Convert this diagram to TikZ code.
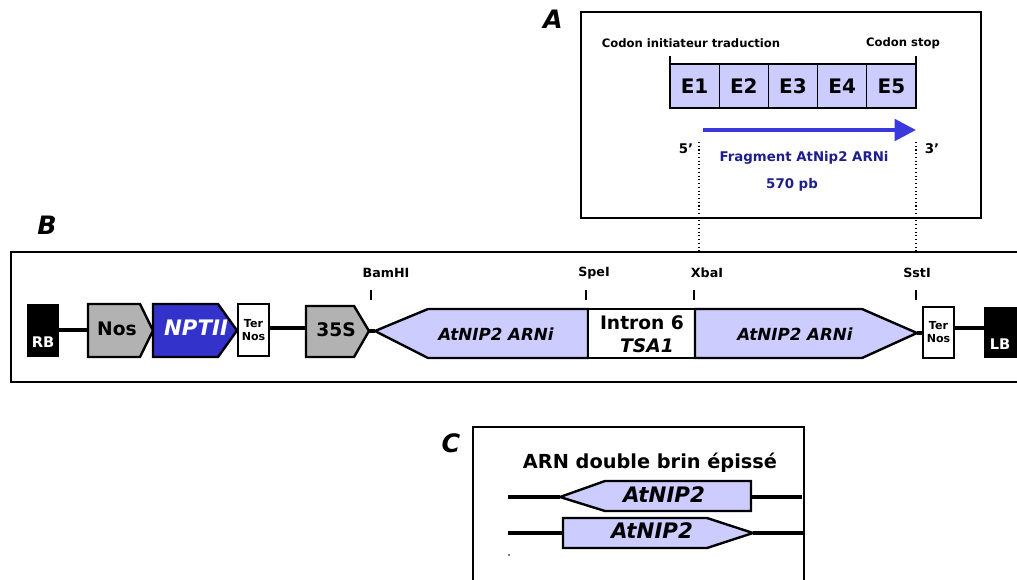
\documentclass[tikz,border=0pt]{standalone}
\usepackage{fontspec}
\setmainfont{DejaVu Sans}
\usetikzlibrary{arrows.meta}
\definecolor{lav}{RGB}{204,204,255}
\definecolor{grfill}{RGB}{178,178,178}
\definecolor{nblue}{RGB}{51,51,204}
\definecolor{ablue}{RGB}{58,58,220}
\definecolor{tblue}{RGB}{30,30,140}
\newcommand{\fs}[1]{\fontsize{#1}{#1}\selectfont}
\begin{document}
\begin{tikzpicture}[x=0.75pt,y=-0.75pt,
  panel/.style={draw=black,line width=1pt},
  shp/.style={draw=black,line width=1.8pt,line join=miter},
  bb/.style={line width=2.6pt},
  tick/.style={line width=2.2pt},
  lbl/.style={inner sep=0pt,font=\fs{9.5}\bfseries},
  big/.style={inner sep=0pt,font=\fs{19}\bfseries\itshape},
  exon/.style={draw=black,line width=0.9pt,fill=lav,minimum width=36.9pt,minimum height=33pt,inner sep=0pt,font=\fs{15}\bfseries},
  dots/.style={dotted,line width=0.8pt}]
\useasboundingbox (0,0) rectangle (1017,579);

% ---------- Panel A ----------
\node[big] (labA) at (553,19) {A};
\draw[panel] (581,12) rectangle (981,218);
\node[lbl,font=\fs{8.7}\bfseries] (ci) at (691,43) {Codon initiateur traduction};
\node[lbl,font=\fs{8.7}\bfseries] (cs) at (903,43) {Codon stop};
\draw[tick] (670,56) -- (670,65);
\draw[tick] (916,56) -- (916,65);
\foreach \i in {1,...,5}{
  \node[exon] (E\i) at ({670+49.2*(\i-0.5)},86) {E\i};
}
\coordinate (arS) at (703,130);
\coordinate (arE) at (916,130);
\draw[ablue,line width=3pt,-{Triangle[length=16pt,width=16pt]}] (arS) -- (arE);
\node[lbl,font=\fs{10}\bfseries] (p5) at (686,149) {5'};
\node[lbl,font=\fs{10}\bfseries] (p3) at (932,149) {3'};
\node[lbl,font=\fs{10}\bfseries,text=tblue] (frag) at (804,158) {Fragment AtNip2 ARNi};
\node[lbl,font=\fs{10}\bfseries,text=tblue] (pb) at (792,185) {570 pb};
\coordinate (d1a) at (699,142); \coordinate (d1b) at (699,252);
\coordinate (d2a) at (916,142); \coordinate (d2b) at (916,252);
\draw[dots] (d1a) -- (d1b);
\draw[dots] (d2a) -- (d2b);

% ---------- Panel B ----------
\node[big] (labB) at (47,225) {B};
\draw[panel] (1030,252) -- (11,252) -- (11,382) -- (1030,382);

% backbone lines
\coordinate (rbR) at (59,330); \coordinate (nosL) at (88,330);
\coordinate (t1R) at (269,328); \coordinate (s35L) at (306,328);
\coordinate (s35T) at (369,331); \coordinate (a1T) at (375,331);
\coordinate (a2T) at (917,333); \coordinate (t2L) at (923,333);
\coordinate (t2R) at (954,328); \coordinate (lbL) at (984,328);
\draw[bb] (rbR) -- (nosL);
\draw[bb] (t1R) -- (s35L);
\draw[bb] (s35T) -- (a1T);
\draw[bb] (a2T) -- (t2L);
\draw[bb] (t2R) -- (lbL);

\fill[black] (27,304) rectangle (59,357);
\node[lbl,font=\fs{11}\bfseries,text=white] (RB) at (43,342) {RB};

\draw[shp,fill=grfill] (88,304) -- (140,304) -- (153,330.5) -- (140,357) -- (88,357) -- cycle;
\node[lbl,font=\fs{14}\bfseries] (Nos) at (117,329) {Nos};

\draw[shp,fill=nblue] (153,304) -- (218,304) -- (237,330.5) -- (218,357) -- (153,357) -- cycle;
\node[lbl,font=\fs{16}\bfseries\itshape,text=white] (NPTII) at (196,328) {NPTII};

\draw[shp,fill=white] (238,304) rectangle (269,356);
\node[lbl,font=\fs{8.3}\bfseries,align=center] (ter1) at (253.5,330) {Ter\\[1.5pt]Nos};

\draw[shp,fill=grfill] (306,306) -- (354,306) -- (369,331) -- (354,357) -- (306,357) -- cycle;
\node[lbl,font=\fs{14}\bfseries] (S35) at (336,330) {35S};

\draw[shp,fill=lav] (375,331) -- (428,309) -- (588,309) -- (588,358) -- (428,358) -- cycle;
\node[lbl,font=\fs{12.5}\bfseries\itshape] (ar1) at (496,334) {AtNIP2 ARNi};

\draw[shp,fill=white] (588,309) rectangle (695,358);
\node[lbl,font=\fs{14}\bfseries] (intr) at (642,323) {Intron 6};
\node[lbl,font=\fs{14}\bfseries\itshape] (tsa) at (647,346) {TSA1};

\draw[shp,fill=lav] (695,309) -- (862,309) -- (917,333) -- (862,358) -- (695,358) -- cycle;
\node[lbl,font=\fs{12.5}\bfseries\itshape] (ar2) at (795,334) {AtNIP2 ARNi};

\draw[shp,fill=white] (923,307) rectangle (954,358);
\node[lbl,font=\fs{8.3}\bfseries,align=center] (ter2) at (938.5,332) {Ter\\[1.5pt]Nos};

\fill[black] (984,307) rectangle (1020,358);
\node[lbl,font=\fs{11}\bfseries,text=white] (LB) at (1000,344) {LB};

% restriction sites
\node[lbl] (bam) at (386,273) {BamHI};
\node[lbl] (spe) at (594,273) {SpeI};
\node[lbl] (xba) at (707,273) {XbaI};
\node[lbl] (sst) at (917,273) {SstI};
\draw[tick] (371,290) -- (371,300);
\draw[tick] (586,290) -- (586,300);
\draw[tick] (694,290) -- (694,300);
\draw[tick] (916,290) -- (916,300);

% ---------- Panel C ----------
\node[big] (labC) at (451,443) {C};
\draw[panel] (473,600) -- (473,427) -- (804,427) -- (804,600);
\node[lbl,font=\fs{14.5}\bfseries] (titC) at (650,463) {ARN double brin épissé};

\coordinate (c1a) at (508,497); \coordinate (c1t) at (560,497);
\coordinate (c1r) at (751,497); \coordinate (c1b) at (802,497);
\draw[bb] (c1a) -- (c1t);
\draw[bb] (c1r) -- (c1b);
\draw[shp,fill=lav] (560,497) -- (605,481) -- (751,481) -- (751,511) -- (605,511) -- cycle;
\node[lbl,font=\fs{16}\bfseries\itshape] (g1) at (664,495) {AtNIP2};

\coordinate (c2a) at (508,533); \coordinate (c2l) at (563,533);
\coordinate (c2t) at (753,533); \coordinate (c2b) at (805,533);
\draw[bb] (c2a) -- (c2l);
\draw[bb] (c2t) -- (c2b);
\draw[shp,fill=lav] (563,518) -- (707,518) -- (753,533) -- (707,548) -- (563,548) -- cycle;
\node[lbl,font=\fs{16}\bfseries\itshape] (g2) at (652,531) {AtNIP2};
\fill (509,555) circle (0.8);
\end{tikzpicture}
\end{document}
